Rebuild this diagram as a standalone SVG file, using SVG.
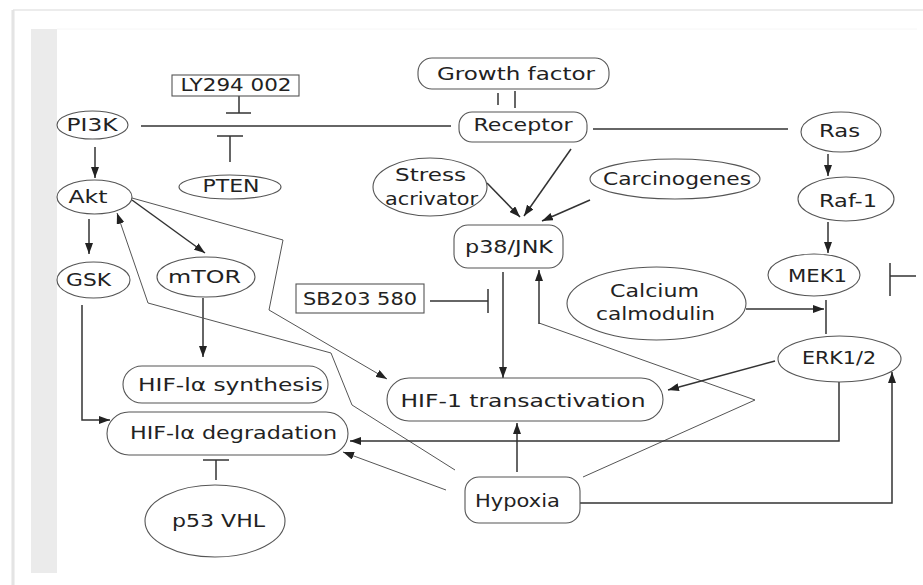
<svg xmlns="http://www.w3.org/2000/svg" width="923" height="585" viewBox="0 0 923 585">
<defs>
<marker id="ah" viewBox="0 0 11 8" refX="11" refY="4" markerWidth="11" markerHeight="8" markerUnits="userSpaceOnUse" orient="auto"><path d="M0,0 L11,4 L0,8 z" fill="#222"/></marker>
<style>
.n{fill:#fff;stroke:#555;stroke-width:1.1}
.t{font-family:"DejaVu Sans",Verdana,sans-serif;font-size:18px;fill:#222;text-anchor:middle}
.c{fill:none;stroke:#333;stroke-width:1.5}
.th{fill:none;stroke:#555;stroke-width:1}
.a{marker-end:url(#ah)}
</style>
</defs>
<rect x="0" y="0" width="923" height="585" fill="#fff"/>
<g id="frame">
<rect x="11" y="10" width="4" height="575" fill="#f0f0f0"/>
<line x1="13" y1="10" x2="923" y2="10" stroke="#e6e6e6" stroke-width="1.5"/>
<line x1="13" y1="10" x2="13" y2="585" stroke="#e0e0e0" stroke-width="1.5"/>
<line x1="57" y1="29" x2="917" y2="29" stroke="#f6f6f6" stroke-width="1"/>
<rect x="31" y="29" width="26" height="544" fill="#ebebeb"/>
</g>
<g id="connectors">
<line class="c" x1="239" y1="96" x2="239" y2="113"/>
<line class="c" x1="226" y1="113" x2="251" y2="113"/>
<line class="c" x1="141" y1="126" x2="451" y2="126"/>
<line class="c" x1="217" y1="136" x2="243" y2="136"/>
<line class="c" x1="230" y1="136" x2="230" y2="162"/>
<line class="c a" x1="95" y1="147" x2="95" y2="178"/>
<line class="c a" x1="89" y1="219" x2="89" y2="254"/>
<line class="c a" x1="132" y1="200" x2="205" y2="253"/>
<line class="c a" x1="203" y1="298" x2="203" y2="357"/>
<polyline class="th a" points="132,198 283,240 269,310 387,379"/>
<polyline class="th a" points="455,470 352,405 331,353 148,303 117,213"/>
<line class="c" x1="498" y1="93" x2="498" y2="105"/>
<line class="c" x1="515" y1="91" x2="515" y2="108"/>
<line class="c a" x1="571" y1="149" x2="524" y2="216"/>
<line class="c a" x1="487" y1="183" x2="520" y2="217"/>
<line class="c a" x1="590" y1="200" x2="542" y2="221"/>
<line class="c" x1="430" y1="301" x2="488" y2="301"/>
<line class="c" x1="488" y1="289" x2="488" y2="313"/>
<line class="c a" x1="503" y1="272" x2="503" y2="378"/>
<polyline class="th" points="583,477 755,400 539,323"/>
<line class="c a" x1="539" y1="324" x2="539" y2="270"/>
<line class="c" x1="593" y1="129" x2="788" y2="129"/>
<line class="c a" x1="828" y1="154" x2="828" y2="176"/>
<line class="c a" x1="828" y1="222" x2="828" y2="253"/>
<line class="c" x1="890" y1="263" x2="890" y2="296"/>
<line class="c" x1="890" y1="276" x2="916" y2="276"/>
<line class="c" x1="826" y1="300" x2="826" y2="334"/>
<line class="c a" x1="746" y1="309" x2="824" y2="309"/>
<line class="c a" x1="775" y1="361" x2="668" y2="390"/>
<polyline class="c a" points="839,382 839,441 350,441"/>
<polyline class="c a" points="580,503 892,503 892,372"/>
<line class="th a" x1="446" y1="490" x2="343" y2="452"/>
<polyline class="c a" points="82,305 82,420 110,420"/>
<line class="c a" x1="517" y1="472" x2="517" y2="423"/>
<line class="c" x1="216" y1="480" x2="216" y2="460"/>
<line class="c" x1="203" y1="460" x2="229" y2="460"/>
</g>
<g id="ly294002"><rect class="n" x="172" y="75" width="127" height="21"/><text class="t" x="236" y="91" textLength="111" lengthAdjust="spacingAndGlyphs">LY294 002</text></g>
<g id="pi3k"><ellipse class="n" cx="92.5" cy="125" rx="35.5" ry="14"/><text class="t" x="92" y="131" textLength="51" lengthAdjust="spacingAndGlyphs">PI3K</text></g>
<g id="pten"><ellipse class="n" cx="230" cy="187" rx="51" ry="12"/><text class="t" x="231" y="192" textLength="57" lengthAdjust="spacingAndGlyphs">PTEN</text></g>
<g id="akt"><ellipse class="n" cx="94.5" cy="197" rx="37.5" ry="17"/><text class="t" x="88" y="203" textLength="39" lengthAdjust="spacingAndGlyphs">Akt</text></g>
<g id="gsk"><ellipse class="n" cx="93.5" cy="280" rx="36.5" ry="18"/><text class="t" x="88.5" y="286" textLength="45" lengthAdjust="spacingAndGlyphs">GSK</text></g>
<g id="mtor"><ellipse class="n" cx="206" cy="277" rx="49" ry="20"/><text class="t" x="204.5" y="283" textLength="73" lengthAdjust="spacingAndGlyphs">mTOR</text></g>
<g id="growth-factor"><rect class="n" x="418" y="58" width="191" height="31" rx="14"/><text class="t" x="516" y="80" textLength="158" lengthAdjust="spacingAndGlyphs">Growth factor</text></g>
<g id="receptor"><rect class="n" x="459" y="112" width="128" height="30" rx="13"/><text class="t" x="523" y="131" textLength="99" lengthAdjust="spacingAndGlyphs">Receptor</text></g>
<g id="ras"><ellipse class="n" cx="841" cy="132" rx="40" ry="20"/><text class="t" x="839.5" y="137" textLength="41" lengthAdjust="spacingAndGlyphs">Ras</text></g>
<g id="raf1"><ellipse class="n" cx="846" cy="199" rx="48" ry="22"/><text class="t" x="848" y="207" textLength="58" lengthAdjust="spacingAndGlyphs">Raf-1</text></g>
<g id="mek1"><ellipse class="n" cx="814" cy="275" rx="46" ry="21"/><text class="t" x="817.5" y="282" textLength="59" lengthAdjust="spacingAndGlyphs">MEK1</text></g>
<g id="stress"><ellipse class="n" cx="430" cy="187" rx="57" ry="29"/><text class="t" x="430.5" y="181" textLength="71" lengthAdjust="spacingAndGlyphs">Stress</text><text class="t" x="431.5" y="205" textLength="93" lengthAdjust="spacingAndGlyphs">acrivator</text></g>
<g id="carcinogenes"><ellipse class="n" cx="675" cy="179" rx="85" ry="20"/><text class="t" x="677" y="185" textLength="148" lengthAdjust="spacingAndGlyphs">Carcinogenes</text></g>
<g id="p38jnk"><rect class="n" x="454" y="225" width="109" height="43" rx="14"/><text class="t" x="509" y="253" textLength="88" lengthAdjust="spacingAndGlyphs">p38/JNK</text></g>
<g id="sb203580"><rect class="n" x="296" y="284" width="128" height="29"/><text class="t" x="360" y="305" textLength="114" lengthAdjust="spacingAndGlyphs">SB203 580</text></g>
<g id="calcium"><ellipse class="n" cx="656.5" cy="303.5" rx="89.5" ry="36.5"/><text class="t" x="654.5" y="297" textLength="89" lengthAdjust="spacingAndGlyphs">Calcium</text><text class="t" x="655.5" y="320" textLength="119" lengthAdjust="spacingAndGlyphs">calmodulin</text></g>
<g id="erk12"><ellipse class="n" cx="839.5" cy="359" rx="61.5" ry="23"/><text class="t" x="839" y="364" textLength="74" lengthAdjust="spacingAndGlyphs">ERK1/2</text></g>
<g id="hif-synthesis"><rect class="n" x="123" y="366" width="205" height="37" rx="19"/><text class="t" x="230.5" y="391" textLength="185" lengthAdjust="spacingAndGlyphs">HIF-lα synthesis</text></g>
<g id="hif-transactivation"><rect class="n" x="387" y="378" width="276" height="43" rx="22"/><text class="t" x="523" y="407" textLength="245" lengthAdjust="spacingAndGlyphs">HIF-1 transactivation</text></g>
<g id="hif-degradation"><rect class="n" x="107" y="412" width="241" height="43" rx="22"/><text class="t" x="233.5" y="439" textLength="207" lengthAdjust="spacingAndGlyphs">HIF-lα degradation</text></g>
<g id="p53vhl"><ellipse class="n" cx="215" cy="521" rx="70" ry="36"/><text class="t" x="218.5" y="527" textLength="93" lengthAdjust="spacingAndGlyphs">p53 VHL</text></g>
<g id="hypoxia"><rect class="n" x="465" y="477" width="115" height="46" rx="14"/><text class="t" x="517.5" y="507" textLength="85" lengthAdjust="spacingAndGlyphs">Hypoxia</text></g>
</svg>
